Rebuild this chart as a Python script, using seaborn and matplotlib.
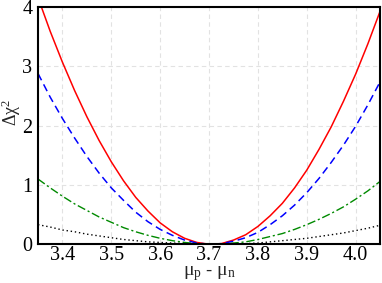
import numpy as np
import pandas as pd
import seaborn as sns
import matplotlib
matplotlib.use('Agg')
import matplotlib.pyplot as plt

# mu_p - mu_n samples
x_vals = [3.350, 3.375, 3.400, 3.425, 3.450, 3.475, 3.500, 3.525, 3.550, 3.575,
          3.600, 3.625, 3.650, 3.675, 3.700, 3.725, 3.750, 3.775, 3.800, 3.825,
          3.850, 3.875, 3.900, 3.925, 3.950, 3.975, 4.000, 4.025, 4.050]

# delta chi^2 curves
chi_red = [4.16, 3.59, 3.07, 2.59, 2.15, 1.75, 1.39, 1.07, 0.79, 0.56,
           0.36, 0.21, 0.10, 0.03, 0.00, 0.01, 0.07, 0.16, 0.30, 0.48,
           0.69, 0.95, 1.25, 1.60, 1.98, 2.41, 2.87, 3.38, 3.93]
chi_blue = [2.88, 2.48, 2.12, 1.79, 1.48, 1.20, 0.95, 0.74, 0.54, 0.38,
            0.25, 0.15, 0.07, 0.02, 0.00, 0.01, 0.05, 0.11, 0.20, 0.33,
            0.48, 0.66, 0.87, 1.11, 1.38, 1.67, 1.99, 2.35, 2.74]
chi_green = [1.10, 0.95, 0.81, 0.68, 0.57, 0.46, 0.37, 0.28, 0.21, 0.15,
             0.10, 0.06, 0.03, 0.01, 0.00, 0.00, 0.02, 0.04, 0.08, 0.13,
             0.18, 0.25, 0.33, 0.42, 0.52, 0.63, 0.76, 0.90, 1.06]
chi_black = [0.33, 0.29, 0.24, 0.21, 0.17, 0.14, 0.11, 0.08, 0.06, 0.04,
             0.03, 0.02, 0.01, 0.00, 0.00, 0.00, 0.01, 0.01, 0.02, 0.04,
             0.06, 0.08, 0.10, 0.13, 0.16, 0.19, 0.23, 0.27, 0.32]

x_ticks = [3.4, 3.5, 3.6, 3.7, 3.8, 3.9, 4.0]
y_ticks = [0, 1, 2, 3, 4]


def main():
    sns.set_style('white')
    plt.rcParams['font.family'] = ['Liberation Serif', 'DejaVu Serif']
    plt.rcParams['mathtext.fontset'] = 'stix'

    df = pd.DataFrame({'x': x_vals, 'red': chi_red, 'blue': chi_blue,
                       'green': chi_green, 'black': chi_black})

    fig = plt.figure(figsize=(3.82, 2.83), dpi=100)
    ax = fig.add_axes([0.0995, 0.137, 0.8955, 0.838])

    sns.lineplot(data=df, x='x', y='red', ax=ax, color='#ff0000', lw=1.1)
    sns.lineplot(data=df, x='x', y='blue', ax=ax, color='#0000ff', lw=1.1,
                 linestyle=(0, (5, 3)))
    sns.lineplot(data=df, x='x', y='green', ax=ax, color='#008a00', lw=1.0,
                 linestyle=(0, (6, 2, 1.5, 2)))
    sns.lineplot(data=df, x='x', y='black', ax=ax, color='black', lw=1.0,
                 linestyle=(0, (1, 2)))

    ax.set_xlim(3.35, 4.05)
    ax.set_ylim(0, 4)
    ax.set_xticks(x_ticks)
    ax.set_xticklabels(['3.4', '3.5', '3.6', '3.7', '3.8', '3.9', '4.0'])
    ax.set_yticks(y_ticks)
    ax.tick_params(length=0, labelsize=14.5, colors='black')
    ax.tick_params(axis='x', pad=1)
    ax.tick_params(axis='y', pad=4)
    ax.grid(True, color='#e2e2e2', linestyle=(0, (4, 3)), lw=0.8)
    for s in ax.spines.values():
        s.set_color('black')
        s.set_linewidth(1.5)

    ax.set_xlabel(r'$\mathregular{\mu_p\ \text{-}\ \mu_n}$', fontsize=14)
    ax.set_ylabel(r'$\mathregular{\Delta\chi^2}$', fontsize=13)
    ax.xaxis.set_label_coords(0.5, -0.085)
    ax.yaxis.set_label_coords(-0.043, 0.557)

    fig.savefig('out.png', dpi=100)


if __name__ == '__main__':
    main()
